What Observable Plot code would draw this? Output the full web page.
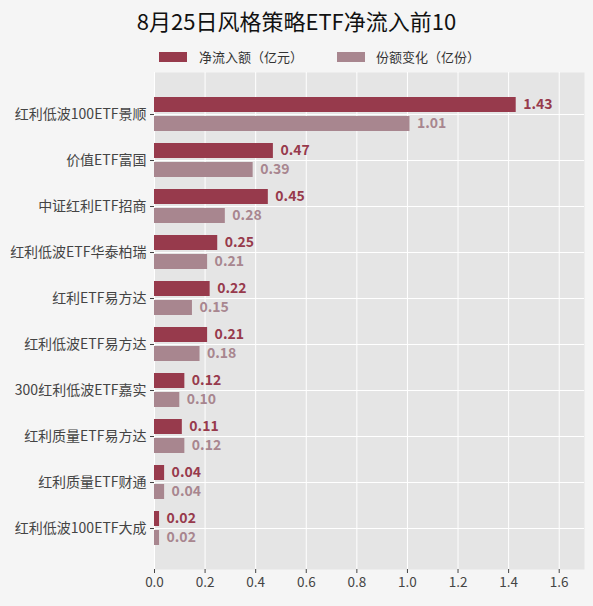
<!DOCTYPE html>
<html><head><meta charset="utf-8">
<script src="https://cdn.jsdelivr.net/npm/d3@7"></script>
<script src="https://cdn.jsdelivr.net/npm/@observablehq/plot@0.6"></script>
<style>
html,body{margin:0;padding:0;background:#f5f5f5;}
#wrap{position:relative;width:593px;height:606px;font-family:"Noto Sans CJK SC","Noto Sans",sans-serif;overflow:hidden;}
#title{position:absolute;top:5px;left:0;width:593px;text-align:center;font-size:22px;line-height:30px;color:#111;}
.sw{position:absolute;top:52px;width:28px;height:10px;}
.lt{position:absolute;top:47px;font-size:13px;line-height:20px;color:#333;white-space:nowrap;}
#chart{position:absolute;top:0;left:0;}
</style></head>
<body>
<div id="wrap">
  <div id="chart"></div>
  <div id="title"></div>
  <div class="sw" id="sw0" style="left:159px"></div>
  <div class="lt" id="lt0" style="left:199px"></div>
  <div class="sw" id="sw1" style="left:337px"></div>
  <div class="lt" id="lt1" style="left:376px"></div>
</div>
<script>
const titleText = "8月25日风格策略ETF净流入前10";
const categories = ["红利低波100ETF景顺","价值ETF富国","中证红利ETF招商","红利低波ETF华泰柏瑞","红利ETF易方达","红利低波ETF易方达","300红利低波ETF嘉实","红利质量ETF易方达","红利质量ETF财通","红利低波100ETF大成"];
const netInflow = [1.43,0.47,0.45,0.25,0.22,0.21,0.12,0.11,0.04,0.02];
const shareChange = [1.01,0.39,0.28,0.21,0.15,0.18,0.10,0.12,0.04,0.02];
const seriesNames = ["净流入额（亿元）","份额变化（亿份）"];
const colors = ["#973a4c","#a8868f"];
const xTicks = [0,0.2,0.4,0.6,0.8,1.0,1.2,1.4,1.6];

document.getElementById("title").textContent = titleText;
seriesNames.forEach((s,i)=>{
  document.getElementById("sw"+i).style.background = colors[i];
  document.getElementById("lt"+i).textContent = s;
});

const rows = categories.map((c,i)=>({name:c, flow:netInflow[i], share:shareChange[i]}));
const fmt = d3.format(".1f");

const chart = Plot.plot({
  width:593, height:606,
  marginTop:72, marginBottom:37, marginLeft:154, marginRight:9,
  style:{background:"transparent", fontFamily:'"Noto Sans CJK SC","Noto Sans",sans-serif', fontSize:"13px", color:"#444"},
  x:{domain:[0,1.7], label:null},
  y:{domain:categories, paddingInner:0.269, paddingOuter:0.478, label:null},
  marks:[
    Plot.frame({fill:"#e5e5e5", stroke:null}),
    Plot.gridX({ticks:xTicks, stroke:"white", strokeOpacity:1, strokeWidth:1}),
    Plot.gridY({stroke:"white", strokeOpacity:1, strokeWidth:1}),
    Plot.barX(rows,{x:"flow", y:"name", fill:colors[0], insetBottom:19}),
    Plot.barX(rows,{x:"share", y:"name", fill:colors[1], insetTop:19}),
    Plot.text(rows,{x:"flow", y:"name", text:d=>d.flow.toFixed(2), dx:7, dy:-9.5, textAnchor:"start", fill:colors[0], fontWeight:"bold", fontSize:14}),
    Plot.text(rows,{x:"share", y:"name", text:d=>d.share.toFixed(2), dx:7, dy:9.5, textAnchor:"start", fill:colors[1], fontWeight:"bold", fontSize:14}),
    Plot.axisX({ticks:xTicks, tickFormat:fmt, tickSize:4, tickPadding:4, fontSize:13.5, label:null, stroke:"#444"}),
    Plot.axisY({tickSize:4, tickPadding:4, fontSize:14, label:null, stroke:"#444"})
  ]
});
document.getElementById("chart").appendChild(chart);
</script>
</body></html>
